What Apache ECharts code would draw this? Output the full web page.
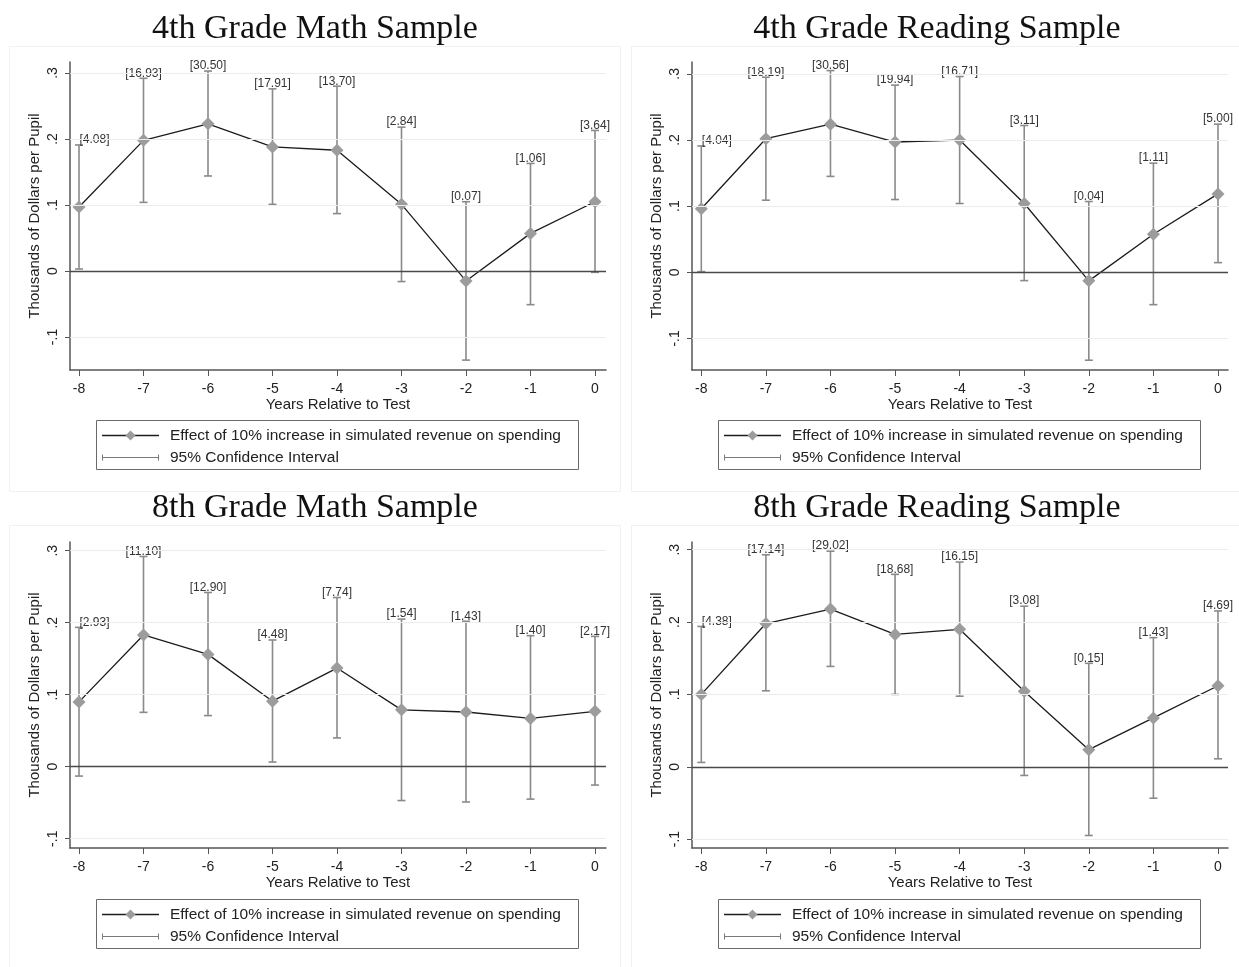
<!DOCTYPE html>
<html>
<head>
<meta charset="utf-8">
<title>Spending effects relative to test year</title>
<script src="https://cdn.jsdelivr.net/npm/echarts@6/dist/echarts.min.js"></script>
<style>
  html, body { margin: 0; padding: 0; background: #fff; }
  #chart { width: 1239px; height: 967px; }
</style>
</head>
<body>
<div id="chart"></div>
<script>
// Years relative to the test year
const years = [-8, -7, -6, -5, -4, -3, -2, -1, 0];
const yTicks = [-0.1, 0, 0.1, 0.2, 0.3];

// 4th grade math sample
const math4Est = [0.097, 0.198, 0.223, 0.188, 0.183, 0.101, -0.015, 0.057, 0.105];
const math4Lo  = [0.003, 0.104, 0.144, 0.101, 0.087, -0.016, -0.135, -0.051, -0.002];
const math4Hi  = [0.191, 0.292, 0.303, 0.276, 0.280, 0.218, 0.105, 0.163, 0.213];
const math4F   = ['4.08', '16.93', '30.50', '17.91', '13.70', '2.84', '0.07', '1.06', '3.64'];

// 4th grade reading sample
const read4Est = [0.096, 0.202, 0.224, 0.197, 0.200, 0.104, -0.013, 0.0575, 0.1185];
const read4Lo  = [0.001, 0.109, 0.145, 0.110, 0.104, -0.0126, -0.133, -0.049, 0.0146];
const read4Hi  = [0.191, 0.295, 0.305, 0.283, 0.296, 0.222, 0.107, 0.165, 0.224];
const read4F   = ['4.04', '18.19', '30.56', '19.94', '16.71', '3.11', '0.04', '1.11', '5.00'];

// 8th grade math sample
const math8Est = [0.090, 0.183, 0.156, 0.091, 0.137, 0.079, 0.076, 0.067, 0.077];
const math8Lo  = [-0.013, 0.0755, 0.071, 0.0065, 0.040, -0.047, -0.049, -0.045, -0.0255];
const math8Hi  = [0.1935, 0.292, 0.242, 0.176, 0.235, 0.205, 0.202, 0.182, 0.181];
const math8F   = ['2.93', '11.10', '12.90', '4.48', '7.74', '1.54', '1.43', '1.40', '2.17'];

// 8th grade reading sample
const read8Est = [0.100, 0.198, 0.218, 0.183, 0.190, 0.1045, 0.0236, 0.0675, 0.112];
const read8Lo  = [0.006, 0.105, 0.1387, 0.100, 0.0975, -0.012, -0.095, -0.0435, 0.011];
const read8Hi  = [0.194, 0.293, 0.298, 0.266, 0.283, 0.222, 0.143, 0.1785, 0.2154];
const read8F   = ['4.38', '17.14', '29.02', '18.68', '16.15', '3.08', '0.15', '1.43', '4.69'];

const panelTitles = ['4th Grade Math Sample', '4th Grade Reading Sample', '8th Grade Math Sample', '8th Grade Reading Sample'];
const xTitle = 'Years Relative to Test';
const yTitle = 'Thousands of Dollars per Pupil';
const legendEst = 'Effect of 10% increase in simulated revenue on spending';
const legendCI = '95% Confidence Interval';

const panelData = [
  { est: math4Est, lo: math4Lo, hi: math4Hi, f: math4F },
  { est: read4Est, lo: read4Lo, hi: read4Hi, f: read4F },
  { est: math8Est, lo: math8Lo, hi: math8Hi, f: math8F },
  { est: read8Est, lo: read8Lo, hi: read8Hi, f: read8F }
];

// Plot-region placement and axis extents for each panel
const layout = [
  { left: 70,  top: 62,  width: 536, height: 308, xMin: -8.1395, xMax: 0.1705, yMin: -0.15,   yMax: 0.3167, ox: 0,   oy: 0 },
  { left: 692, top: 62,  width: 536, height: 308, xMin: -8.144,  xMax: 0.155,  yMin: -0.1478, yMax: 0.318,  ox: 622, oy: 0 },
  { left: 70,  top: 542, width: 536, height: 306, xMin: -8.1395, xMax: 0.1705, yMin: -0.1129, yMax: 0.3121, ox: 0,   oy: 479 },
  { left: 692, top: 542, width: 536, height: 306, xMin: -8.144,  xMax: 0.155,  yMin: -0.1123, yMax: 0.3107, ox: 622, oy: 479 }
];

const FONT = '"Liberation Sans", Arial, sans-serif';
const SERIF = '"Liberation Serif", "DejaVu Serif", serif';
const AXIS_COLOR = '#555';
const CI_COLOR = '#8a8a8a';
const MARK_COLOR = '#9c9c9c';
const LINE_COLOR = '#1c1c1c';

const grids = [], xAxes = [], yAxes = [], series = [], graphics = [];

const fmtY = v => {
  if (Math.abs(v) < 1e-9) return '0';
  const s = (Math.round(v * 10) / 10).toString();
  return s.replace('0.', '.');
};

layout.forEach((L, i) => {
  const d = panelData[i];
  grids.push({ left: L.left, top: L.top, width: L.width, height: L.height, containLabel: false });

  xAxes.push({
    type: 'value', gridIndex: i, min: L.xMin, max: L.xMax,
    name: xTitle, nameLocation: 'middle', nameGap: 27,
    nameTextStyle: { fontFamily: FONT, fontSize: 15, color: '#222' },
    axisLine: { show: true, onZero: false, lineStyle: { color: AXIS_COLOR, width: 1.5 } },
    axisTick: { show: true, length: 6, lineStyle: { color: AXIS_COLOR, width: 1 }, customValues: years },
    axisLabel: { fontFamily: FONT, fontSize: 14, color: '#222', margin: 12, customValues: years,
                 formatter: v => String(Math.round(v)) },
    splitLine: { show: false }
  });

  yAxes.push({
    type: 'value', gridIndex: i, min: L.yMin, max: L.yMax,
    name: yTitle, nameLocation: 'middle', nameGap: 28,
    nameTextStyle: { fontFamily: FONT, fontSize: 15, color: '#222' },
    axisLine: { show: true, onZero: false, lineStyle: { color: AXIS_COLOR, width: 1.5 } },
    axisTick: { show: true, length: 5, lineStyle: { color: AXIS_COLOR, width: 1 }, customValues: yTicks },
    axisLabel: { fontFamily: FONT, fontSize: 14, color: '#222', rotate: 90, margin: 10, customValues: yTicks,
                 formatter: fmtY },
    splitLine: { show: false }
  });

  // light horizontal reference lines and the zero line
  series.push({
    type: 'line', xAxisIndex: i, yAxisIndex: i, z: 1, silent: true,
    data: years.map((x, k) => [x, d.est[k]]),
    showSymbol: false, lineStyle: { opacity: 0 },
    markLine: {
      silent: true, symbol: ['none', 'none'], label: { show: false },
      animation: false,
      data: yTicks.map(v => ({
        yAxis: v,
        lineStyle: v === 0 ? { color: '#4a4a4a', width: 1.3, type: 'solid' }
                           : { color: '#ececec', width: 1.2, type: 'solid' }
      }))
    }
  });

  // confidence intervals with capped whiskers and bracketed labels
  series.push({
    type: 'custom', xAxisIndex: i, yAxisIndex: i, z: 2, silent: true,
    data: years.map((x, k) => [x, d.lo[k], d.hi[k]]),
    renderItem: (params, api) => {
      const x = api.value(0);
      const pLo = api.coord([x, api.value(1)]);
      const pHi = api.coord([x, api.value(2)]);
      const cap = 4;
      const st = { stroke: CI_COLOR, lineWidth: 1.6 };
      const idx = params.dataIndex;
      const first = idx === 0;
      return {
        type: 'group',
        children: [
          { type: 'line', shape: { x1: pLo[0], y1: pLo[1], x2: pHi[0], y2: pHi[1] }, style: st },
          { type: 'line', shape: { x1: pLo[0] - cap, y1: pLo[1], x2: pLo[0] + cap, y2: pLo[1] }, style: st },
          { type: 'line', shape: { x1: pHi[0] - cap, y1: pHi[1], x2: pHi[0] + cap, y2: pHi[1] }, style: st },
          { type: 'text', x: first ? pHi[0] + 0.5 : pHi[0], y: pHi[1] - 5,
            style: { text: '[' + d.f[idx] + ']', fontFamily: FONT, fontSize: 12, fill: '#333',
                     align: first ? 'left' : 'center', verticalAlign: 'middle' } }
        ]
      };
    }
  });

  // point estimates
  series.push({
    type: 'line', xAxisIndex: i, yAxisIndex: i, z: 3, silent: true,
    data: years.map((x, k) => [x, d.est[k]]),
    symbol: 'diamond', symbolSize: 13, showSymbol: true,
    itemStyle: { color: MARK_COLOR },
    lineStyle: { color: LINE_COLOR, width: 1.3 }
  });

  // panel title
  graphics.push({
    type: 'text', x: L.left + 245, y: 29 + L.oy,
    style: { text: panelTitles[i], fontFamily: SERIF, fontSize: 34, fill: '#111',
             align: 'center', verticalAlign: 'middle' }
  });

  // faint panel frame
  graphics.push({
    type: 'rect', silent: true, z: -1,
    shape: { x: (i % 2 === 0 ? 9.5 : 631.5), y: (i < 2 ? 46.5 : 525.5),
             width: (i % 2 === 0 ? 611 : 620), height: (i < 2 ? 445 : 460) },
    style: { fill: 'none', stroke: '#f1f1f1', lineWidth: 1 }
  });

  // legend box
  const bx = 96 + L.ox, by = 420 + L.oy;
  graphics.push({
    type: 'group', children: [
      { type: 'rect', shape: { x: bx + 0.5, y: by + 0.5, width: 482, height: 49 },
        style: { fill: '#fff', stroke: '#6a6a6a', lineWidth: 1 } },
      { type: 'line', shape: { x1: bx + 6, y1: by + 15.5, x2: bx + 63, y2: by + 15.5 },
        style: { stroke: LINE_COLOR, lineWidth: 1.3 } },
      { type: 'polygon', shape: { points: [[bx + 34.5, by + 10.5], [bx + 39.5, by + 15.5], [bx + 34.5, by + 20.5], [bx + 29.5, by + 15.5]] },
        style: { fill: MARK_COLOR } },
      { type: 'text', x: bx + 74, y: by + 15.5,
        style: { text: legendEst, fontFamily: FONT, fontSize: 15.5, fill: '#222', verticalAlign: 'middle' } },
      { type: 'line', shape: { x1: bx + 6, y1: by + 37.5, x2: bx + 63, y2: by + 37.5 },
        style: { stroke: '#7a7a7a', lineWidth: 1.2 } },
      { type: 'line', shape: { x1: bx + 6.5, y1: by + 34.5, x2: bx + 6.5, y2: by + 40.5 },
        style: { stroke: '#7a7a7a', lineWidth: 1 } },
      { type: 'line', shape: { x1: bx + 62.5, y1: by + 34.5, x2: bx + 62.5, y2: by + 40.5 },
        style: { stroke: '#7a7a7a', lineWidth: 1 } },
      { type: 'text', x: bx + 74, y: by + 37.5,
        style: { text: legendCI, fontFamily: FONT, fontSize: 15.5, fill: '#222', verticalAlign: 'middle' } }
    ]
  });
});

const chart = echarts.init(document.getElementById('chart'), null, { renderer: 'canvas' });
chart.setOption({
  backgroundColor: '#fff',
  animation: false,
  grid: grids,
  xAxis: xAxes,
  yAxis: yAxes,
  series: series,
  graphic: graphics
});
</script>
</body>
</html>
